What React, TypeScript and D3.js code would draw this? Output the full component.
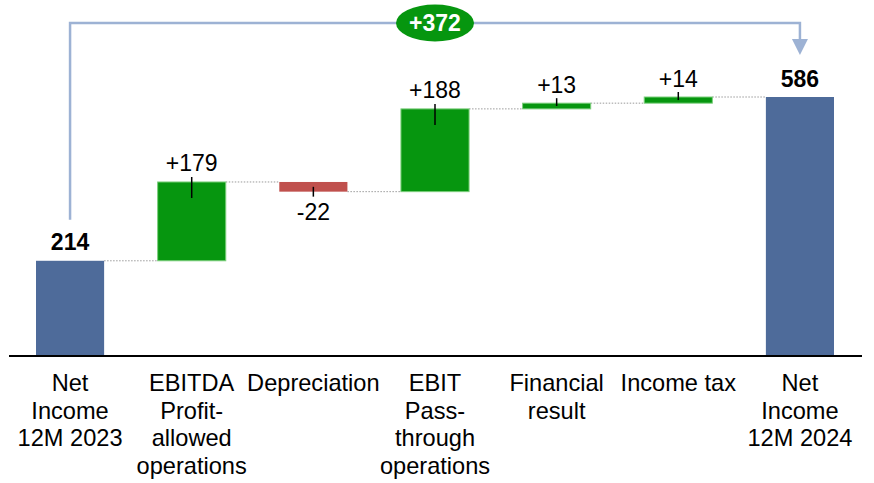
import * as d3 from "d3";

const categories = [
  "Net\nIncome\n12M 2023",
  "EBITDA\nProfit-\nallowed\noperations",
  "Depreciation",
  "EBIT\nPass-\nthrough\noperations",
  "Financial\nresult",
  "Income tax",
  "Net\nIncome\n12M 2024",
];
const values = [214, 179, -22, 188, 13, 14, 586];
const kinds = ["total", "delta", "delta", "delta", "delta", "delta", "total"];
const valueLabels = ["214", "+179", "-22", "+188", "+13", "+14", "586"];
const overallChange = "+372";

const W = 874;
const H = 483;
const FONT = "'Liberation Sans', Arial, sans-serif";

const BLUE = "#4e6b9a";
const GREEN = "#06960f";
const RED = "#c0504d";
const ARROW = "#9db2d4";

export default function App() {
  const x = d3.scaleBand<string>()
    .domain(categories)
    .range([36, 834])
    .paddingInner(0.44)
    .paddingOuter(0);
  const y = d3.scaleLinear().domain([0, 586]).range([355, 97]);
  const bw = x.bandwidth();

  // running totals for the waterfall
  let level = 0;
  const bars = values.map((v, i) => {
    let lo: number, hi: number;
    if (kinds[i] === "total") {
      lo = 0; hi = v; level = v;
    } else {
      const start = level;
      level = start + v;
      lo = Math.min(start, level); hi = Math.max(start, level);
    }
    return { cat: categories[i], v, lo, hi, end: level, kind: kinds[i], label: valueLabels[i] };
  });

  const cx = (c: string) => (x(c) as number) + bw / 2;
  const first = bars[0];
  const last = bars[bars.length - 1];
  const arrowTop = 23;
  const arrowStartY = y(first.hi) - 41;
  const ellipseX = cx(categories[3]);

  return (
    <svg width={W} height={H} style={{ position: "absolute", left: 0, top: 0 }} fontFamily={FONT}>
      <rect width={W} height={H} fill="#fff" />

      {/* dotted connectors */}
      {bars.slice(0, -1).map((b, i) => (
        <line key={"c" + i}
          x1={(x(b.cat) as number) + bw} x2={x(bars[i + 1].cat) as number}
          y1={y(b.end)} y2={y(b.end)}
          stroke="#9a9a9a" strokeWidth={1} strokeDasharray="1.5,1.5" />
      ))}

      {/* bars */}
      {bars.map((b, i) => {
        const color = b.kind === "total" ? BLUE : b.v >= 0 ? GREEN : RED;
        return (
          <rect key={"b" + i} x={x(b.cat)} width={bw}
            y={y(b.hi)} height={y(b.lo) - y(b.hi)}
            fill={color}
            stroke={b.kind === "delta" && b.v >= 0 ? "#7ccf7c" : "none"}
            strokeWidth={b.kind === "delta" && b.v >= 0 ? 1 : 0} />
        );
      })}

      {/* small marker ticks on delta bars */}
      {bars.filter(b => b.kind === "delta").map((b, i) => {
        const top = y(b.hi), bot = y(b.lo), h = bot - top;
        const inner = Math.min(16, h * 0.5);
        const y1 = b.v >= 0 ? top - 5 : bot - inner;
        const y2 = b.v >= 0 ? top + inner : bot + 5;
        return <line key={"t" + i} x1={cx(b.cat)} x2={cx(b.cat)} y1={y1} y2={y2}
          stroke="#000" strokeWidth={1.5} />;
      })}

      {/* value labels */}
      {bars.map((b, i) => {
        const neg = b.v < 0;
        const yy = neg ? y(b.lo) + 28.5 : y(b.hi) - 10.5;
        return (
          <text key={"v" + i} x={cx(b.cat)} y={yy} textAnchor="middle"
            fontSize={23} fontWeight={b.kind === "total" ? "bold" : "normal"} fill="#000">
            {b.label}
          </text>
        );
      })}

      {/* axis line */}
      <line x1={9} x2={862} y1={356} y2={356} stroke="#000" strokeWidth={2} />

      {/* category labels */}
      {categories.map((c, i) => (
        <text key={"l" + i} x={cx(c)} y={391} textAnchor="middle" fontSize={23.6} fill="#000">
          {c.split("\n").map((line, j) => (
            <tspan key={j} x={cx(c)} dy={j === 0 ? 0 : 27.7}>{line}</tspan>
          ))}
        </text>
      ))}

      {/* overall change arrow */}
      <path
        d={`M${cx(first.cat)},${arrowStartY}V${arrowTop}H${cx(last.cat)}V${arrowTop + 17}`}
        fill="none" stroke={ARROW} strokeWidth={2.5} />
      <path
        d={`M${cx(last.cat) - 8},${arrowTop + 16}L${cx(last.cat) + 8},${arrowTop + 16}L${cx(last.cat)},${arrowTop + 32}Z`}
        fill={ARROW} />
      <ellipse cx={ellipseX} cy={arrowTop} rx={39} ry={18.5} fill={GREEN} />
      <text x={ellipseX} y={arrowTop + 8} textAnchor="middle" fontSize={23}
        fontWeight="bold" fill="#fff">{overallChange}</text>
    </svg>
  );
}
